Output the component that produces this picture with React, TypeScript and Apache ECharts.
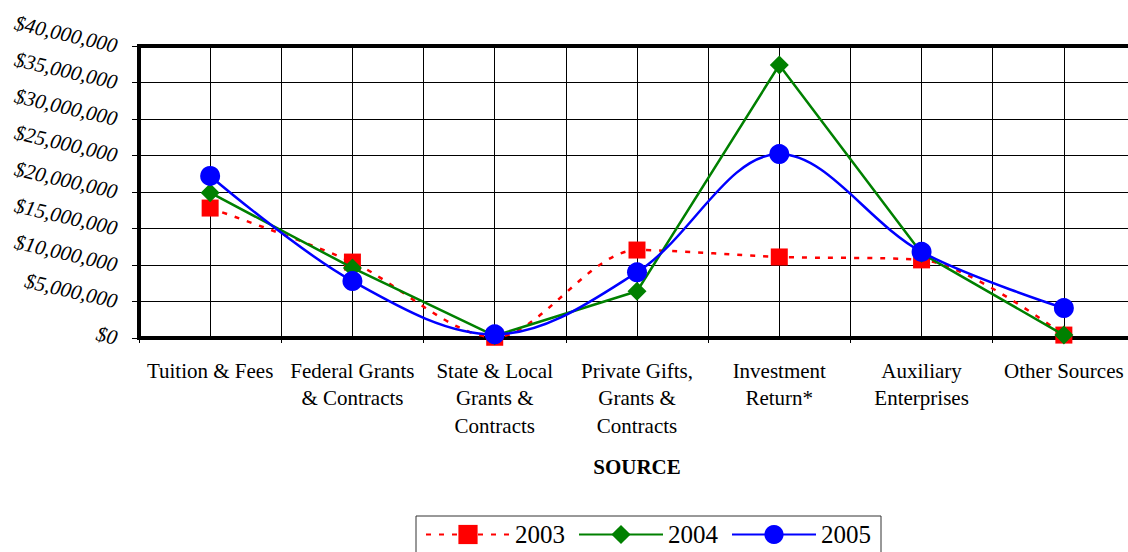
import React, { useEffect, useRef } from "react";
import * as echarts from "echarts";

const categories = [
  "Tuition & Fees",
  "Federal Grants\n& Contracts",
  "State & Local\nGrants &\nContracts",
  "Private Gifts,\nGrants &\nContracts",
  "Investment\nReturn*",
  "Auxiliary\nEnterprises",
  "Other Sources",
];
const values2003 = [17800000, 10400000, 100000, 12050000, 11100000, 10700000, 400000];
const values2004 = [19900000, 9600000, 300000, 6400000, 37400000, 11600000, 400000];
const values2005 = [22200000, 7800000, 500000, 9000000, 25200000, 11800000, 4100000];
const seriesNames = ["2003", "2004", "2005"];

const SERIF = "'Liberation Serif', 'Times New Roman', serif";

export default function App() {
  const ref = useRef<HTMLDivElement>(null);
  useEffect(() => {
    if (!ref.current) return;
    const chart = echarts.init(ref.current, undefined, { renderer: "svg" });
    chart.setOption({
      animation: false,
      textStyle: { fontFamily: SERIF, color: "#000" },
      grid: {
        left: 139,
        top: 46,
        width: 996,
        height: 292,
        outerBoundsMode: "none",
        containLabel: false,
        show: true,
        borderColor: "#000",
        borderWidth: 4,
        backgroundColor: "transparent",
      },
      legend: {
        left: 416,
        top: 516,
        padding: [6, 10, 8, 9],
        borderColor: "#333",
        borderWidth: 1,
        itemWidth: 84,
        itemHeight: 24,
        itemGap: 13,
        textStyle: { fontFamily: SERIF, fontSize: 25, color: "#000" },
        data: seriesNames,
      },
      xAxis: [
        {
          type: "category",
          data: categories,
          boundaryGap: true,
          name: "SOURCE",
          nameLocation: "middle",
          nameGap: 118,
          nameTextStyle: { fontFamily: SERIF, fontSize: 21, fontWeight: "bold", color: "#000" },
          axisLine: { lineStyle: { color: "#000", width: 4 } },
          axisTick: { show: true, length: 5, lineStyle: { color: "#000", width: 1 } },
          axisLabel: {
            interval: 0,
            margin: 19,
            fontFamily: SERIF,
            fontSize: 21,
            lineHeight: 27.5,
            color: "#000",
            align: "center",
          },
          splitLine: { show: false },
        },
        {
          type: "value",
          min: 0,
          max: 7,
          interval: 0.5,
          show: true,
          position: "bottom",
          axisLine: { show: false },
          axisTick: { show: false },
          axisLabel: { show: false },
          splitLine: { show: true, lineStyle: { color: "#000", width: 1 } },
        },
      ],
      yAxis: {
        type: "value",
        min: 0,
        max: 40000000,
        interval: 5000000,
        axisLine: { show: true, lineStyle: { color: "#000", width: 4 } },
        axisTick: { show: true, length: 7, lineStyle: { color: "#000", width: 1 } },
        splitLine: { show: true, lineStyle: { color: "#000", width: 1 } },
        axisLabel: {
          rotate: -13,
          margin: 22,
          fontFamily: SERIF,
          fontSize: 21,
          fontStyle: "italic",
          color: "#000",
          formatter: (v: number) => "$" + v.toLocaleString("en-US"),
        },
      },
      series: [
        {
          name: "2003",
          type: "line",
          data: values2003,
          smooth: 0.3,
          symbol: "rect",
          symbolSize: 17,
          itemStyle: { color: "#ff0000" },
          lineStyle: { color: "#ff0000", width: 2.5, type: [5, 8] },
          z: 3,
        },
        {
          name: "2004",
          type: "line",
          data: values2004,
          smooth: false,
          symbol: "diamond",
          symbolSize: 19,
          itemStyle: { color: "#008000" },
          lineStyle: { color: "#008000", width: 2.5 },
          z: 4,
        },
        {
          name: "2005",
          type: "line",
          data: values2005,
          smooth: 0.35,
          symbol: "circle",
          symbolSize: 20,
          itemStyle: { color: "#0000ff" },
          lineStyle: { color: "#0000ff", width: 2.5 },
          z: 5,
        },
      ],
    });
    return () => chart.dispose();
  }, []);
  return <div ref={ref} style={{ width: 1128, height: 552, position: "absolute", left: 0, top: 0 }} />;
}
